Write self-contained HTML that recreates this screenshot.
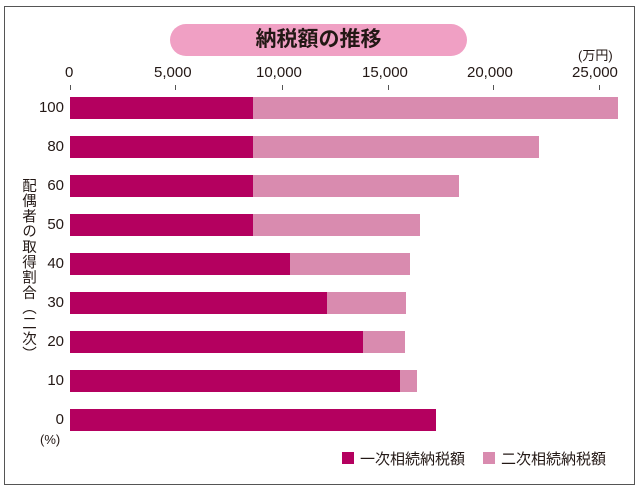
<!DOCTYPE html>
<html><head><meta charset="utf-8"><style>
html,body{margin:0;padding:0;background:#fff;}
body{width:640px;height:493px;position:relative;overflow:hidden;font-family:"Liberation Sans","Noto Sans CJK JP",sans-serif;color:#231815;}
.box{position:absolute;left:4px;top:6px;width:629px;height:477px;border:1.5px solid #555;}
.pill{position:absolute;left:170px;top:24px;width:297px;height:32px;border-radius:16px;background:#f0a0c4;text-align:center;line-height:32px;font-size:21px;font-weight:bold;color:#231815;}
.t{position:absolute;font-size:15px;}
.tk{position:absolute;top:85px;width:1px;height:5px;background:#555;}
.bar{position:absolute;height:22px;}
.d{background:#b4005f;}
.l{background:#d98baf;}
.yl{position:absolute;font-size:15px;width:40px;text-align:right;}
.vt{position:absolute;left:20px;top:178px;writing-mode:vertical-rl;font-size:14.5px;line-height:16px;letter-spacing:0.8px;}
</style></head><body>
<div class="box"></div>
<div class="pill">納税額の推移</div>
<div class="t" style="left:578px;top:45px;font-size:13px;">(万円)</div>
<div class="t" style="left:65px;top:64px;">0</div>
<div class="t" style="left:154px;top:64px;">5,000</div>
<div class="t" style="left:256px;top:64px;">10,000</div>
<div class="t" style="left:362px;top:64px;">15,000</div>
<div class="t" style="left:467px;top:64px;">20,000</div>
<div class="t" style="left:572px;top:64px;">25,000</div>
<div class="tk" style="left:70px"></div><div class="tk" style="left:175px"></div><div class="tk" style="left:282px"></div><div class="tk" style="left:388px"></div><div class="tk" style="left:493px"></div><div class="tk" style="left:599px"></div>

<div class="yl" style="left:24px;top:99px">100</div>
<div class="bar d" style="left:70px;top:97px;width:183px"></div><div class="bar l" style="left:253px;top:97px;width:365px"></div>
<div class="yl" style="left:24px;top:138px">80</div>
<div class="bar d" style="left:70px;top:136px;width:183px"></div><div class="bar l" style="left:253px;top:136px;width:286px"></div>
<div class="yl" style="left:24px;top:177px">60</div>
<div class="bar d" style="left:70px;top:175px;width:183px"></div><div class="bar l" style="left:253px;top:175px;width:206px"></div>
<div class="yl" style="left:24px;top:216px">50</div>
<div class="bar d" style="left:70px;top:214px;width:183px"></div><div class="bar l" style="left:253px;top:214px;width:167px"></div>
<div class="yl" style="left:24px;top:255px">40</div>
<div class="bar d" style="left:70px;top:253px;width:220px"></div><div class="bar l" style="left:290px;top:253px;width:120px"></div>
<div class="yl" style="left:24px;top:294px">30</div>
<div class="bar d" style="left:70px;top:292px;width:257px"></div><div class="bar l" style="left:327px;top:292px;width:79px"></div>
<div class="yl" style="left:24px;top:333px">20</div>
<div class="bar d" style="left:70px;top:331px;width:293px"></div><div class="bar l" style="left:363px;top:331px;width:42px"></div>
<div class="yl" style="left:24px;top:372px">10</div>
<div class="bar d" style="left:70px;top:370px;width:330px"></div><div class="bar l" style="left:400px;top:370px;width:17px"></div>
<div class="yl" style="left:24px;top:411px">0</div>
<div class="bar d" style="left:70px;top:409px;width:366px"></div>
<div class="t" style="left:40px;top:432px;font-size:13px;">(%)</div>
<div class="vt">配偶者の取得割合（二次）</div>
<div style="position:absolute;left:342px;top:452px;width:12px;height:12px;background:#b4005f"></div>
<div class="t" style="left:360px;top:448px;font-size:15px;">一次相続納税額</div>
<div style="position:absolute;left:483px;top:452px;width:12px;height:12px;background:#d98baf"></div>
<div class="t" style="left:501px;top:448px;font-size:15px;">二次相続納税額</div>
</body></html>
